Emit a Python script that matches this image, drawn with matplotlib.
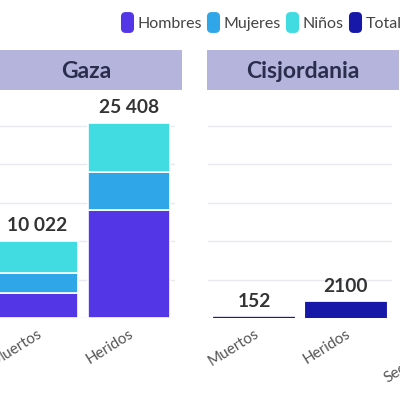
import matplotlib.pyplot as plt
from matplotlib.lines import Line2D
from matplotlib.patches import FancyBboxPatch

plt.rcParams['font.family'] = ['Lato', 'DejaVu Sans']

# datos
categorias = ['Muertos', 'Heridos']
gaza_hombres = [3277, 14060]
gaza_mujeres = [2641, 4950]
gaza_ninos = [4104, 6398]
cis_total = [152, 2100]
otros_cat = ['Secuestrados', 'Desaparecidos']
otros_total = [240, 1500]

colores = {'Hombres': '#5336e6', 'Mujeres': '#2ea6e8', 'Niños': '#41dbe2', 'Total': '#1717a8'}
header_col = '#b4b4dc'
ymax = 29700
W = H = 400.0

fig = plt.figure(figsize=(4, 4), dpi=100)


def make_panel(left, right, titulo):
    # pixel coords -> figure fraction
    ax = fig.add_axes([left / W, 1 - 318 / H, (right - left) / W, (318 - 90) / H])
    hx = fig.add_axes([(left - 1) / W, 1 - 90 / H, (right - left + 8) / W, 40 / H])
    hx.set_facecolor(header_col)
    hx.set_xticks([]); hx.set_yticks([])
    for s in hx.spines.values():
        s.set_visible(False)
    hx.text(0.5, 0.47, titulo, ha='center', va='center', fontsize=16.5,
            fontweight='bold', color='#2b2d4d', transform=hx.transAxes)
    ax.set_xlim(-0.5, 1.5)
    ax.set_ylim(0, ymax)
    ax.set_yticks(range(0, 30000, 5000))
    ax.set_yticklabels([])
    ax.tick_params(axis='y', length=0)
    ax.tick_params(axis='x', length=0, pad=6, labelsize=11, labelcolor='#555555')
    ax.grid(axis='y', color='#e9e9f0', linewidth=1)
    ax.set_axisbelow(True)
    for s in ax.spines.values():
        s.set_visible(False)
    return ax


def etiquetas(ax, cats):
    ax.set_xticks(range(len(cats)))
    ax.set_xticklabels(cats, rotation=32, ha='right', va='top', rotation_mode='anchor')


def rotular(ax, x, y, val):
    txt = f'{val:,}'.replace(',', ' ')
    if val < 10000:
        txt = str(val)
    ax.annotate(txt, xy=(x, y), xytext=(0, 5), textcoords='offset points',
                ha='center', va='bottom', fontsize=13.8, fontweight='bold', color='#333333')


bw = 0.89

# Gaza
ax1 = make_panel(-9, 175, 'Gaza')
x = range(len(categorias))
ax1.bar(x, gaza_hombres, bw, color=colores['Hombres'], edgecolor='white', linewidth=1.2)
bot = [a for a in gaza_hombres]
ax1.bar(x, gaza_mujeres, bw, bottom=bot, color=colores['Mujeres'], edgecolor='white', linewidth=1.2)
bot = [a + b for a, b in zip(gaza_hombres, gaza_mujeres)]
ax1.bar(x, gaza_ninos, bw, bottom=bot, color=colores['Niños'], edgecolor='white', linewidth=1.2)
etiquetas(ax1, categorias)
for i in x:
    tot = gaza_hombres[i] + gaza_mujeres[i] + gaza_ninos[i]
    rotular(ax1, i, tot, tot)

# Cisjordania
ax2 = make_panel(208, 392, 'Cisjordania')
ax2.bar(x, cis_total, bw, color=colores['Total'], snap=False)
etiquetas(ax2, categorias)
for i in x:
    rotular(ax2, i, cis_total[i], cis_total[i])

# tercer panel (fuera del recorte)
ax3 = make_panel(411, 595, 'Israel')
ax3.bar(range(len(otros_cat)), otros_total, bw, color='#f2c12e')
etiquetas(ax3, otros_cat)

# leyenda
rr = FancyBboxPatch((-0.3, -0.5), 0.6, 1.0,
                    boxstyle='round,pad=0,rounding_size=0.2').get_path()
handles = [Line2D([], [], linestyle='none', marker=rr, markersize=14,
                  markerfacecolor=c, markeredgecolor=c) for c in colores.values()]
fig.legend(handles, list(colores.keys()), loc='center left', ncol=4,
           bbox_to_anchor=(122 / W, 1 - 24 / H), frameon=False, fontsize=11.5,
           handlelength=0.6, handletextpad=0.35, columnspacing=0.42,
           labelcolor='#444444', borderaxespad=0, borderpad=0)

fig.savefig('out.png', dpi=100)
